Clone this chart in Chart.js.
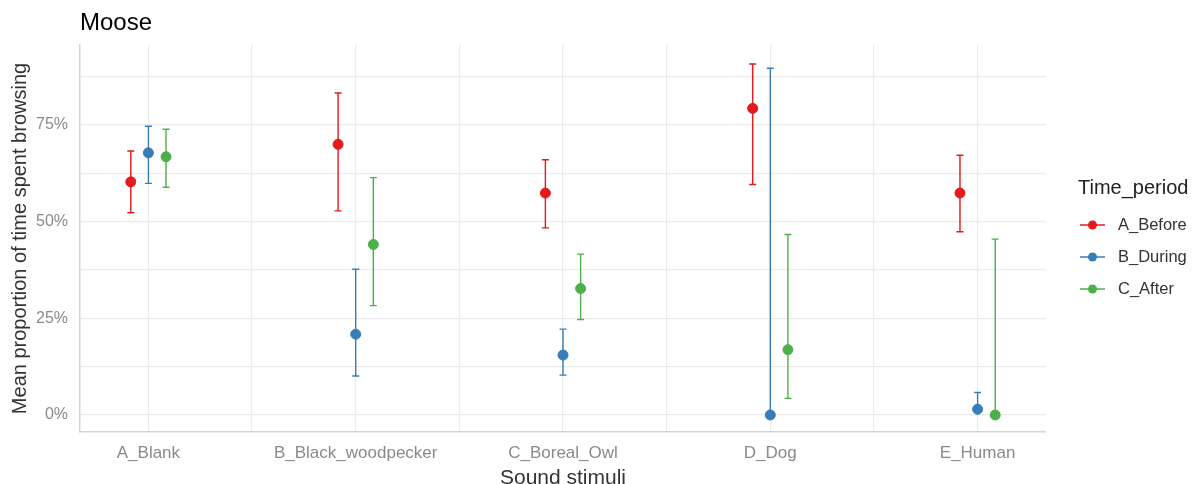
<!DOCTYPE html>
<html>
<head>
<meta charset="utf-8">
<script src="https://cdn.jsdelivr.net/npm/chart.js@4"></script>
<style>
  html, body { margin: 0; padding: 0; background: #fff; }
  #wrap { width: 1197px; height: 484px; }
</style>
</head>
<body>
<div id="wrap"><canvas id="chart" width="1197" height="484"></canvas></div>
<script>
const categories = ['A_Blank', 'B_Black_woodpecker', 'C_Boreal_Owl', 'D_Dog', 'E_Human'];
const periods = ['A_Before', 'B_During', 'C_After'];
const periodColors = ['#E41A1C', '#377EB8', '#4DAF4A'];

// mean and error bar bounds, proportion (0..1)
const beforeMean = [0.603, 0.700, 0.574, 0.793, 0.574];
const beforeLow  = [0.523, 0.528, 0.484, 0.596, 0.474];
const beforeHigh = [0.683, 0.833, 0.660, 0.908, 0.672];

const duringMean = [0.678, 0.209, 0.155, 0.000, 0.015];
const duringLow  = [0.599, 0.101, 0.103, 0.000, 0.000];
const duringHigh = [0.747, 0.377, 0.222, 0.897, 0.058];

const afterMean = [0.668, 0.441, 0.327, 0.169, 0.000];
const afterLow  = [0.589, 0.283, 0.247, 0.043, 0.000];
const afterHigh = [0.739, 0.614, 0.416, 0.467, 0.455];

const yTicks = [0, 0.125, 0.25, 0.375, 0.5, 0.625, 0.75, 0.875];
const xTicks = [1, 1.5, 2, 2.5, 3, 3.5, 4, 4.5, 5];

const dodge = [-0.085, 0, 0.085];
const FONT = '"Liberation Sans", Arial, sans-serif';

const series = [
  { mean: beforeMean, low: beforeLow, high: beforeHigh },
  { mean: duringMean, low: duringLow, high: duringHigh },
  { mean: afterMean, low: afterLow, high: afterHigh }
];

const datasets = periods.map((p, k) => ({
  label: p,
  data: categories.map((c, i) => ({
    x: i + 1 + dodge[k],
    y: series[k].mean[i],
    lo: series[k].low[i],
    hi: series[k].high[i]
  })),
  backgroundColor: periodColors[k],
  borderColor: periodColors[k],
  pointRadius: 5,
  pointHoverRadius: 5,
  pointStyle: 'circle'
}));

// vertical error bars with caps, under the points
const errorBars = {
  id: 'errorBars',
  beforeDatasetsDraw(chart) {
    const { ctx, scales: { x, y } } = chart;
    ctx.save();
    ctx.lineWidth = 1.4;
    chart.data.datasets.forEach(ds => {
      ctx.strokeStyle = ds.borderColor;
      ds.data.forEach(d => {
        const px = x.getPixelForValue(d.x);
        const top = y.getPixelForValue(d.hi);
        const bot = y.getPixelForValue(d.lo);
        ctx.beginPath();
        ctx.moveTo(px, top); ctx.lineTo(px, bot);
        ctx.moveTo(px - 3.5, top); ctx.lineTo(px + 3.5, top);
        if (d.lo > 0) { ctx.moveTo(px - 3.5, bot); ctx.lineTo(px + 3.5, bot); }
        ctx.stroke();
      });
    });
    ctx.restore();
  }
};

// ggplot-like legend to the right of the panel
const sideLegend = {
  id: 'sideLegend',
  afterDraw(chart) {
    const { ctx, chartArea } = chart;
    const x0 = chartArea.right + 32;
    ctx.save();
    ctx.textBaseline = 'middle';
    ctx.textAlign = 'left';
    ctx.fillStyle = '#222';
    ctx.font = '20px ' + FONT;
    ctx.fillText('Time_period', x0, 188);
    ctx.font = '16.5px ' + FONT;
    chart.data.datasets.forEach((ds, i) => {
      const cy = 225 + i * 32;
      ctx.strokeStyle = ds.borderColor;
      ctx.fillStyle = ds.backgroundColor;
      ctx.lineWidth = 1.5;
      ctx.beginPath(); ctx.moveTo(x0 + 2, cy); ctx.lineTo(x0 + 27, cy); ctx.stroke();
      ctx.beginPath(); ctx.arc(x0 + 14.5, cy, 4.5, 0, Math.PI * 2); ctx.fill();
      ctx.fillStyle = '#333';
      ctx.fillText(ds.label, x0 + 40, cy);
    });
    ctx.restore();
  }
};

new Chart(document.getElementById('chart'), {
  type: 'scatter',
  data: { datasets },
  plugins: [errorBars, sideLegend],
  options: {
    responsive: false,
    animation: false,
    layout: { padding: { left: 0, right: 151, top: 0, bottom: 0 } },
    plugins: {
      tooltip: { enabled: false },
      legend: { display: false },
      title: {
        display: true,
        text: 'Moose',
        align: 'start',
        fullSize: false,
        color: '#000',
        font: { family: FONT, size: 24, weight: 'normal', lineHeight: 1.2 },
        padding: { top: 9, bottom: 7.2 }
      }
    },
    scales: {
      x: {
        type: 'linear',
        min: 0.67,
        max: 5.33,
        afterBuildTicks(scale) { scale.ticks = xTicks.map(v => ({ value: v })); },
        afterFit(scale) { scale.height = 52; },
        ticks: {
          autoSkip: false,
          maxRotation: 0,
          color: '#8a8a8a',
          padding: 11,
          font: { family: FONT, size: 17 },
          callback: v => Number.isInteger(v) ? categories[v - 1] : ''
        },
        grid: { color: '#ebebeb', lineWidth: 1.2, drawTicks: false },
        border: { display: true, color: '#d6d6d6', width: 1.5 },
        title: {
          display: true,
          text: 'Sound stimuli',
          color: '#333',
          font: { family: FONT, size: 21 },
          padding: { top: 0, bottom: -7 }
        }
      },
      y: {
        min: -0.044,
        max: 0.957,
        afterBuildTicks(scale) { scale.ticks = yTicks.map(v => ({ value: v })); },
        afterFit(scale) { scale.width = 80; },
        ticks: {
          color: '#8a8a8a',
          padding: 12,
          font: { family: FONT, size: 16 },
          callback: v => (Math.round(v * 1000) % 250 === 0) ? Math.round(v * 100) + '%' : ''
        },
        grid: { color: '#ebebeb', lineWidth: 1.2, drawTicks: false },
        border: { display: true, color: '#d6d6d6', width: 1.5 },
        title: {
          display: true,
          text: 'Mean proportion of time spent browsing',
          color: '#333',
          font: { family: FONT, size: 20 },
          padding: { top: 8, bottom: 0 }
        }
      }
    }
  }
});
</script>
</body>
</html>
